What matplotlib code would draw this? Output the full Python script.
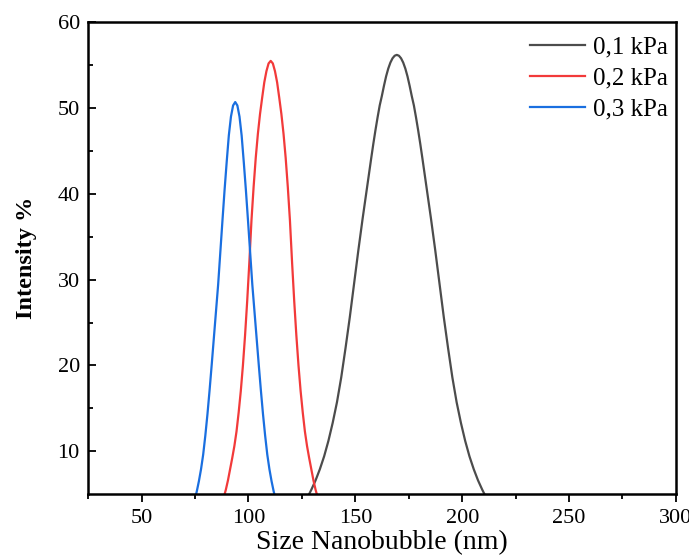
import matplotlib.pyplot as plt

# values
size_01 = [127.4, 129.4, 131.4, 133.4, 135.4, 137.4, 139.4, 141.4, 143.4, 145.4,
           147.4, 149.4, 151.4, 153.4, 155.4, 157.4,
           158.4, 159.4, 160.4, 161.4, 162.4, 163.4, 164.4, 165.4, 166.4, 167.4,
           168.4, 169.4, 170.4, 171.4, 172.4, 173.4, 174.4, 175.4, 176.4, 177.4,
           178.4, 179.4, 180.4, 181.4,
           183.4, 185.4, 187.4, 189.4, 191.4, 193.4, 195.4, 197.4, 199.4, 201.4,
           203.4, 205.4, 207.4, 209.4, 211.4]
int_01 = [4.5, 5.5, 6.6, 7.9, 9.4, 11.2, 13.3, 15.7, 18.6, 22.0,
          25.6, 29.5, 33.4, 37.1, 40.6, 44.1,
          45.8, 47.4, 48.9, 50.3, 51.4, 52.6, 53.7, 54.6, 55.3, 55.8,
          56.1, 56.2, 56.1, 55.8, 55.3, 54.6, 53.7, 52.6, 51.4, 50.3,
          48.9, 47.4, 45.8, 44.1,
          40.6, 37.1, 33.4, 29.5, 25.6, 22.0, 18.6, 15.7, 13.3, 11.2,
          9.4, 7.9, 6.6, 5.5, 4.5]

size_02 = [88.4, 89.4, 90.4, 91.4, 92.4, 93.4, 94.4, 95.4, 96.4, 97.4,
           98.4, 99.4, 100.4, 101.4, 102.4, 103.4, 104.4, 105.4, 106.4, 107.4,
           108.4, 109.4, 110.4, 111.4, 112.4, 113.4, 114.4, 115.4, 116.4, 117.4,
           118.4, 119.4, 120.4, 121.4, 122.4, 123.4, 124.4, 125.4, 126.4, 127.4,
           128.4, 129.4, 130.4, 131.4, 132.4]
int_02 = [4.6, 5.5, 6.6, 7.9, 9.2, 10.6, 12.3, 14.5, 17.0, 20.0,
          23.5, 27.5, 32.0, 36.9, 40.8, 44.2, 47.0, 49.3, 51.2, 53.0,
          54.3, 55.2, 55.5, 55.2, 54.3, 53.0, 51.2, 49.3, 47.0, 44.2,
          40.8, 36.9, 32.0, 27.5, 23.5, 20.0, 17.0, 14.5, 12.3, 10.6,
          9.2, 7.9, 6.6, 5.5, 4.6]

size_03 = [74.8, 75.8, 76.8, 77.8, 78.8, 79.8, 80.8, 81.8, 82.8, 83.8,
           84.8, 85.8, 86.8, 87.8, 88.8, 89.8, 90.8, 91.8, 92.8, 93.8,
           94.8, 95.8, 96.8, 97.8, 98.8, 99.8, 100.8, 101.8, 102.8, 103.8,
           104.8, 105.8, 106.8, 107.8, 108.8, 109.8, 110.8, 111.8, 112.8]
int_03 = [4.3, 5.3, 6.5, 7.9, 9.6, 11.8, 14.3, 17.1, 20.1, 23.2,
          26.3, 29.4, 33.1, 36.8, 40.4, 43.7, 46.8, 49.0, 50.3, 50.7,
          50.3, 49.0, 46.8, 43.7, 40.4, 36.8, 33.1, 29.4, 26.3, 23.2,
          20.1, 17.1, 14.3, 11.8, 9.6, 7.9, 6.5, 5.3, 4.3]

labels = ['0,1 kPa', '0,2 kPa', '0,3 kPa']
colors = ['#4c4c4c', '#f23a3a', '#1a6fe0']

plt.rcParams['font.family'] = ['Liberation Serif', 'DejaVu Serif']

fig = plt.figure(figsize=(6.89, 5.57), dpi=100)
ax = fig.add_axes([0.128, 0.113, 0.853, 0.847])

ax.plot(size_01, int_01, color=colors[0], lw=1.6, label=labels[0])
ax.plot(size_02, int_02, color=colors[1], lw=1.6, label=labels[1])
ax.plot(size_03, int_03, color=colors[2], lw=1.6, label=labels[2])

ax.set_xlim(25, 300)
ax.set_ylim(5, 60)
ax.set_xticks([50, 100, 150, 200, 250, 300])
ax.set_xticks(range(25, 301, 50), minor=True)
ax.set_yticks([10, 20, 30, 40, 50, 60])
ax.set_yticks(range(15, 60, 10), minor=True)

ax.tick_params(axis='x', which='major', direction='out', length=6, width=1.3, labelsize=16, pad=5)
ax.tick_params(axis='x', which='minor', direction='out', length=3.5, width=1.3)
ax.tick_params(axis='y', which='major', direction='in', length=6, width=1.3, labelsize=16, pad=6)
ax.tick_params(axis='y', which='minor', direction='in', length=3.5, width=1.3)

for s in ax.spines.values():
    s.set_linewidth(1.8)

ax.set_xlabel('Size Nanobubble (nm)', fontsize=20, labelpad=1)
ax.set_ylabel('Intensity %', fontsize=17.5, fontweight='bold', labelpad=15)

ax.legend(loc='upper right', bbox_to_anchor=(1.007, 0.997), frameon=False,
          fontsize=18, handlelength=2.2, handletextpad=0.3, labelspacing=0.34,
          borderaxespad=0.1)

fig.savefig('out.png', dpi=100)
